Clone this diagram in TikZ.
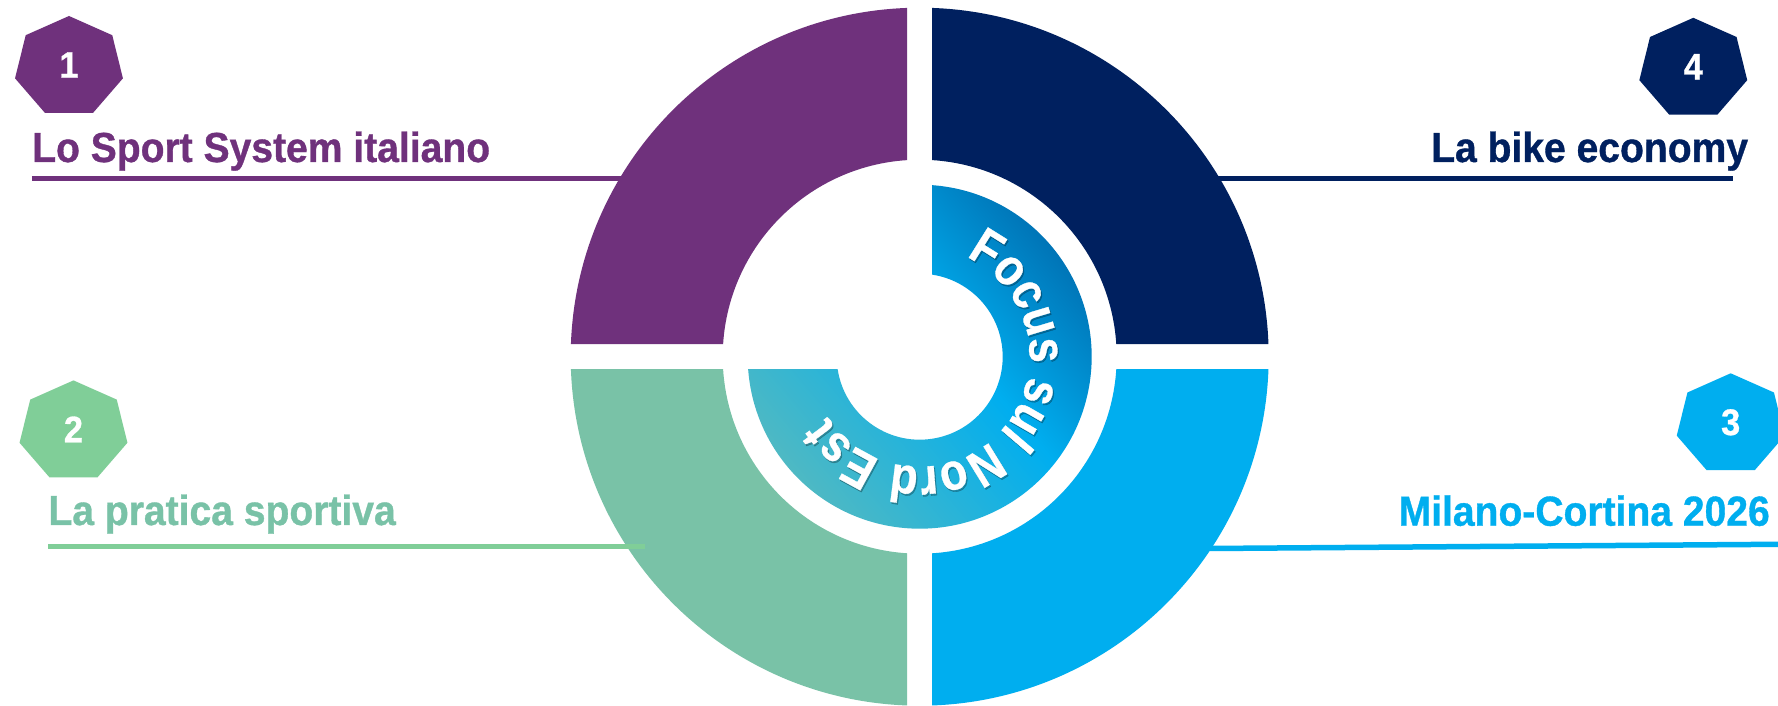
\documentclass[tikz,border=0pt]{standalone}
\usepackage{fontspec}
\setmainfont{Liberation Sans}[BoldFont={Liberation Sans Bold}, BoldFeatures={FakeBold=0.8}, FakeStretch=0.93]
\newfontfamily\focusfam{Liberation Sans Bold}[FakeStretch=0.86, FakeBold=0.6]
\usepackage{tikz}
\usetikzlibrary{shapes.geometric,decorations.text}
\definecolor{purp}{HTML}{6F317C}
\definecolor{navy}{HTML}{00205F}
\definecolor{mint}{HTML}{79C2A7}
\definecolor{leaf}{HTML}{80CE98}
\definecolor{sky}{HTML}{00AEEF}
\definecolor{deepb}{HTML}{005396}
\definecolor{tealb}{HTML}{4FB9C3}
\pgfdeclarehorizontalshading{focus}{100bp}{color(0bp)=(tealb); color(25bp)=(tealb); color(55bp)=(sky); color(86bp)=(deepb); color(100bp)=(deepb)}
\newcommand\focusfont{\fontsize{52}{52}\selectfont\focusfam}
\tikzset{
  hept/.style={regular polygon, regular polygon sides=7, minimum size=102pt, inner sep=0pt,
    fill=#1, xscale=1.085, transform shape},
  num/.style={text=white, inner sep=0pt, font=\fontsize{37}{37}\selectfont\bfseries},
  title/.style={text=#1, inner sep=0pt, font=\fontsize{42}{42}\selectfont\bfseries},
  rule/.style={draw=#1, line width=5.5pt},
  ringtext/.style={decorate,
    decoration={text along path, text color=#1, text align=center, text={|\focusfont|Focus sul Nord Est}}}
}

\begin{document}
\begin{tikzpicture}[x=1pt,y=1pt]
   \useasboundingbox[fill=white] (-919.7,-349.3) rectangle (858.3,356.7);

   \coordinate (p1) at (-850.7,289.7);
   \coordinate (p2) at (-846.2,-74.7);
   \coordinate (p3) at (811,-67.6);
   \coordinate (p4) at (773.6,287.9);
   \node[hept=purp] (h1) at (p1) {};
   \node[hept=leaf] (h2) at (p2) {};
   \node[hept=sky]  (h3) at (p3) {};
   \node[hept=navy] (h4) at (p4) {};
   \node[num] (n1) at ([yshift=2pt]h1.center) {1};
   \node[num] (n2) at ([yshift=2pt]h2.center) {2};
   \node[num] (n3) at ([yshift=2pt]h3.center) {3};
   \node[num] (n4) at ([yshift=2pt]h4.center) {4};

   \node[title=purp, anchor=base west] (t1) at (-887.7,194.7) {Lo Sport System italiano};
   \node[title=mint, anchor=base west] (t2) at (-871.4,-168.3) {La pratica sportiva};
   \node[title=sky,  anchor=base east] (t3) at (850.3,-169) {Milano-Cortina 2026};
   \node[title=navy, anchor=base east] (t4) at (828.6,194.7) {La bike economy};

   \coordinate (e1) at (-290,178.4);
   \coordinate (e2) at (-274.7,-190);
   \coordinate (e3) at (290,-191.8);
   \coordinate (f3) at (858.3,-187.6);
   \coordinate (e4) at (290,178.4);
   \coordinate (f4) at (813.6,178.4);
   \draw[rule=purp] (t1.west |- e1) -- (e1);
   \draw[rule=sky]  (e3) -- (f3);
   \draw[rule=navy] (e4) -- (f4);

   \foreach \col/\b in {navy/0, purp/90, mint/180, sky/270}
      \fill[\col] ({\b+2.053}:349pt) arc[start angle=\b+2.053, end angle=\b+87.947, radius=349pt]
         -- ({\b+86.362}:197pt) arc[start angle=\b+86.362, end angle=\b+3.638, radius=197pt] -- cycle;

   \draw[rule=leaf] (t2.west |- e2) -- (e2);

   \shade[shading=focus, shading angle=40] (85.83:172pt) arc[start angle=85.83, end angle=-175.83, radius=172pt]
      -- (-171.34:83pt) arc[start angle=-171.34, end angle=81.34, radius=83pt] -- cycle;

   \begin{scope}[opacity=0.25, shift={(1.2pt,-1.8pt)}]
      \path[ringtext=black] (82:110pt) arc[start angle=82, end angle=-164, radius=110pt];
   \end{scope}
   \path[ringtext=white] (82:110pt) arc[start angle=82, end angle=-164, radius=110pt];
\end{tikzpicture}
\end{document}
